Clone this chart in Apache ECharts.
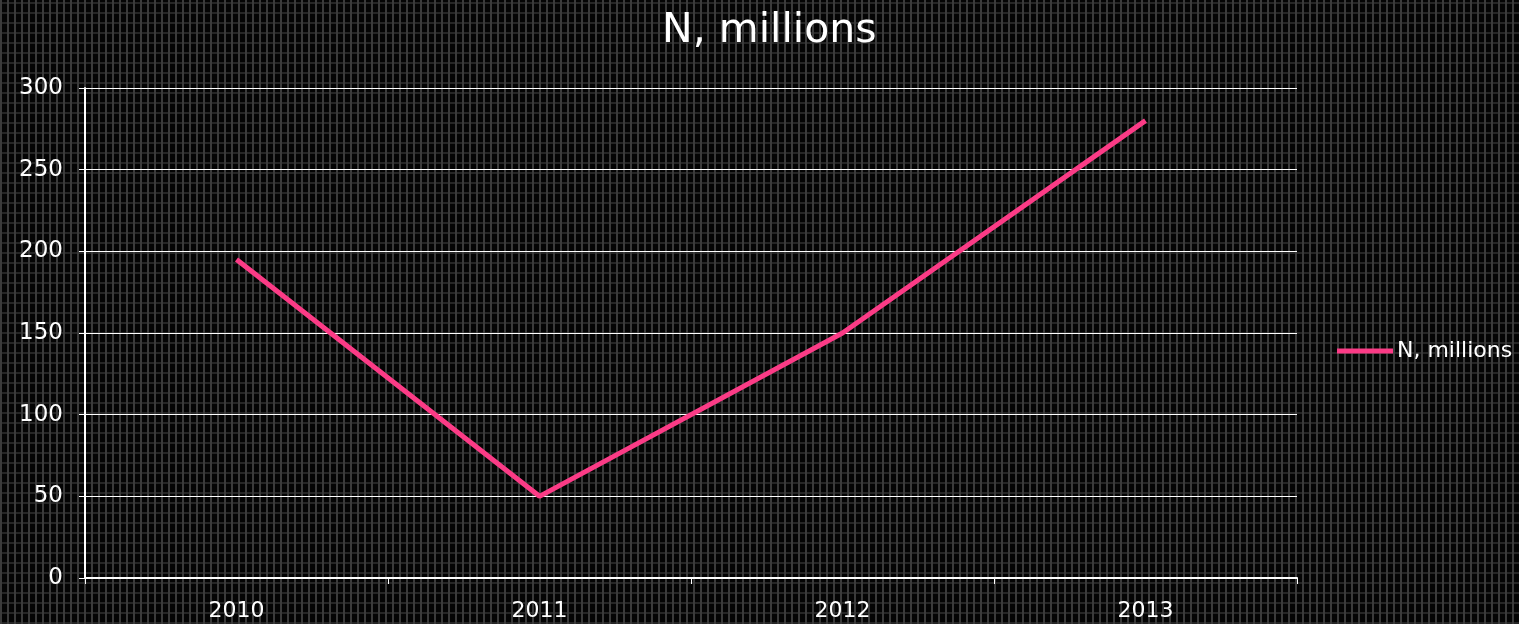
<!DOCTYPE html>
<html><head><meta charset="utf-8">
<script src="https://cdn.jsdelivr.net/npm/echarts@6/dist/echarts.min.js"></script>
<style>
html,body{margin:0;padding:0;width:1519px;height:624px;overflow:hidden;
background-color:#040404;
background-image:
 repeating-linear-gradient(90deg, #3b3b3b 0px, #3b3b3b 2px, transparent 2px, transparent 7px),
 repeating-linear-gradient(0deg, #252525 0px, #252525 2px, transparent 2px, transparent 10px);}
#c{width:1519px;height:624px;}
</style></head><body><div id="c"></div>
<script>
const categories = ['2010','2011','2012','2013'];
const seriesName = 'N, millions';
const values = [195, 50, 150, 280];
const yTicks = [0, 50, 100, 150, 200, 250, 300];

const FONT = 'DejaVu Sans';
const chart = echarts.init(document.getElementById('c'));
chart.setOption({
  backgroundColor: 'transparent',
  animation: false,
  title: { text: seriesName, left: 662, top: 11, padding: 0,
    textStyle: { color: '#ffffff', fontSize: 41, fontWeight: 'normal', fontFamily: FONT } },
  legend: { data: [seriesName], left: 1337, top: 340, padding: 0, icon: 'rect', itemWidth: 56, itemHeight: 5, itemGap: 0,
    textStyle: { color: '#ffffff', fontSize: 22, fontFamily: FONT, padding: [0,0,0,-1] } },
  grid: { left: 85, right: 222, top: 88, bottom: 46 },
  xAxis: { type: 'category', data: categories, boundaryGap: true,
    axisLine: { lineStyle: { color: '#ffffff', width: 2 } },
    axisTick: { show: true, length: 6, lineStyle: { color: '#ffffff', width: 1 } },
    axisLabel: { color: '#ffffff', fontSize: 22, fontFamily: FONT, margin: 22 } },
  yAxis: { type: 'value', min: yTicks[0], max: yTicks[yTicks.length-1], interval: 50,
    axisLine: { show: true, lineStyle: { color: '#ffffff', width: 2 } },
    axisTick: { show: true, length: 6, lineStyle: { color: '#ffffff' } },
    axisLabel: { color: '#ffffff', fontSize: 23, fontFamily: FONT, margin: 22 },
    splitLine: { show: true, lineStyle: { color: '#ffffff', width: 1.2 } } },
  series: [{ name: seriesName, type: 'line', data: values, showSymbol: false, symbol: 'none',
    lineStyle: { color: '#fb3b86', width: 5 }, itemStyle: { color: '#fb3b86' } }]
});
</script></body></html>
